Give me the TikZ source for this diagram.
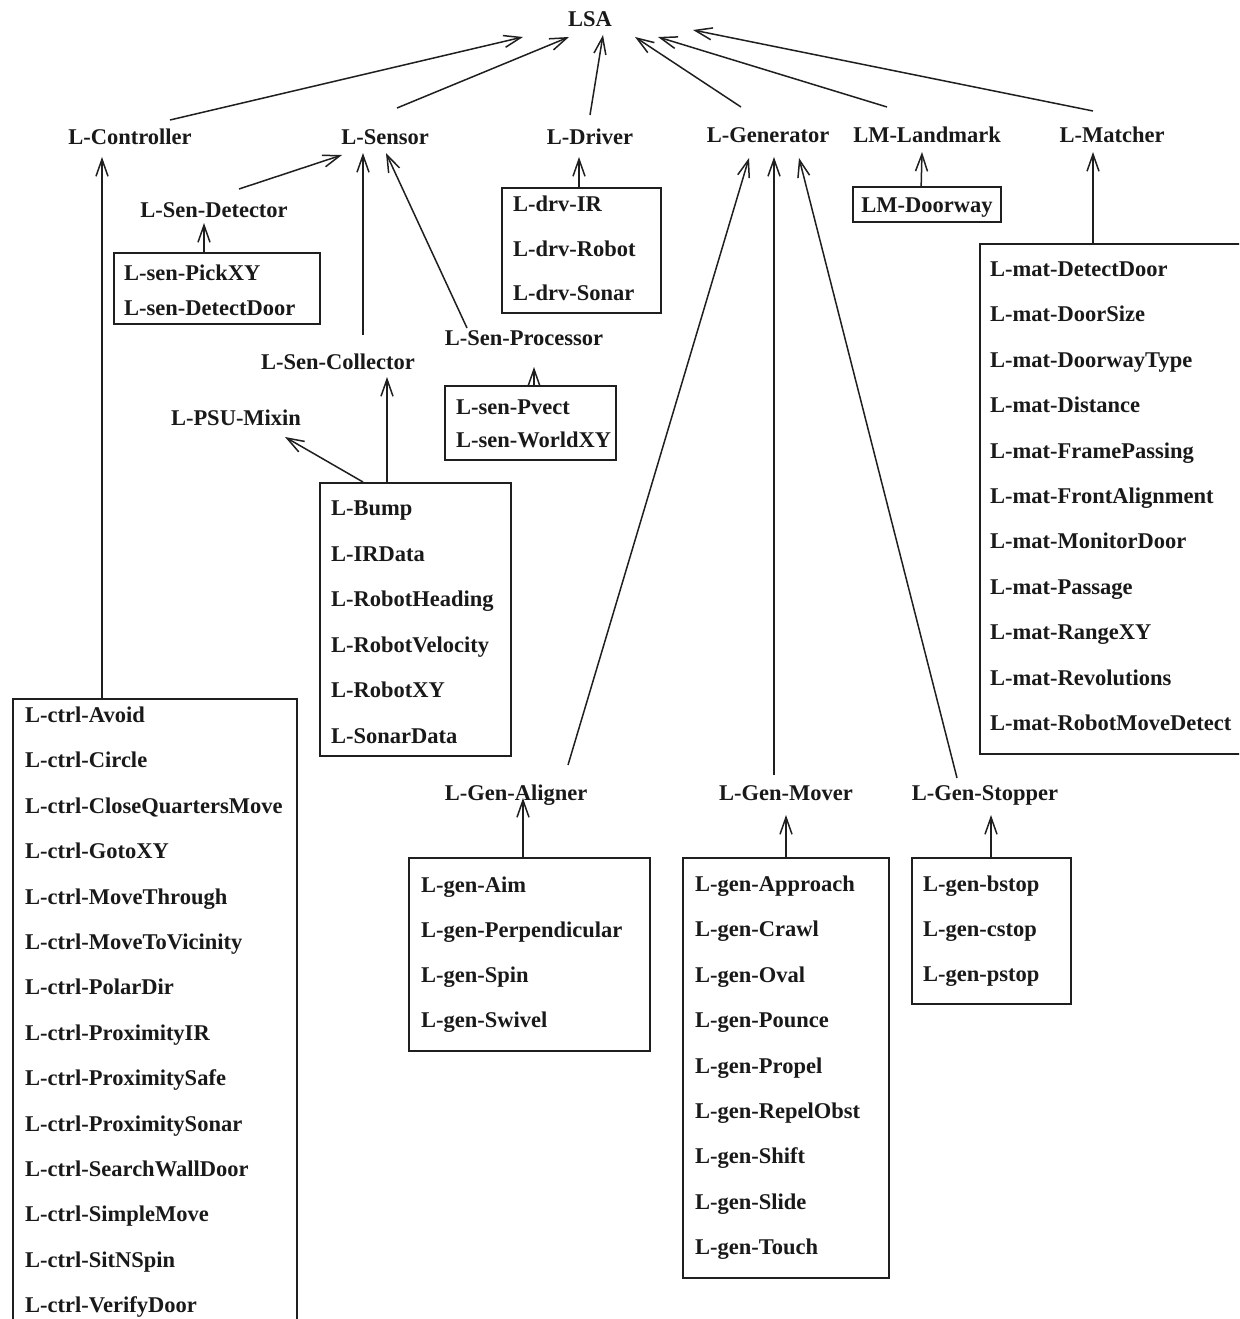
\documentclass[tikz,border=0pt]{standalone}
\usepackage{fontspec}
\setmainfont{Liberation Serif}
\usetikzlibrary{arrows.meta}
\begin{document}
\begin{tikzpicture}[x=1pt,y=-1pt,
  lbl/.style={font=\fontsize{22.5}{27}\selectfont\bfseries, text=black!90,
    inner sep=0pt, text height=15pt, text depth=0pt},
  item/.style={lbl, anchor=west},
  box/.style={draw=black!88, line width=1.7pt, inner sep=0pt, anchor=north west},
  arr/.style={draw=black!88, line width=1.5pt,
    -{Straight Barb[length=17pt,width=12pt,line width=1.5pt]}},
]
\useasboundingbox (0,0) rectangle (1239,1319);
\clip (0,0) rectangle (1239,1319);

% class names
\node[lbl] (lsa)     at (590,19)  {LSA};
\node[lbl] (lctrl)   at (130,137) {L-Controller};
\node[lbl] (lsensor) at (385,137) {L-Sensor};
\node[lbl] (ldriver) at (590,137) {L-Driver};
\node[lbl] (lgen)    at (768,135) {L-Generator};
\node[lbl] (lmland)  at (927,135) {LM-Landmark};
\node[lbl] (lmatch)  at (1112,135) {L-Matcher};
\node[lbl] (lsdet)   at (214,210) {L-Sen-Detector};
\node[lbl] (lsproc)  at (524,338) {L-Sen-Processor};
\node[lbl] (lscoll)  at (338,362) {L-Sen-Collector};
\node[lbl] (lpsu)    at (236,418) {L-PSU-Mixin};
\node[lbl] (lgalign) at (516,793) {L-Gen-Aligner};
\node[lbl] (lgmover) at (786,793) {L-Gen-Mover};
\node[lbl] (lgstop)  at (985,793) {L-Gen-Stopper};

% boxes of leaf classes
\node[box, minimum width=284pt, minimum height=660pt] (ctrlbox) at (12,698) {};
\node[box, minimum width=206pt, minimum height=71pt]  (sdetbox) at (113,252) {};
\node[box, minimum width=159pt, minimum height=125pt] (drvbox)  at (501,187) {};
\node[box, minimum width=171pt, minimum height=74pt]  (pvbox)   at (444,385) {};
\node[box, minimum width=191pt, minimum height=273pt] (bumpbox) at (319,482) {};
\node[box, minimum width=241pt, minimum height=193pt] (aimbox)  at (408,857) {};
\node[box, minimum width=206pt, minimum height=420pt] (appbox)  at (682,857) {};
\node[box, minimum width=159pt, minimum height=146pt] (stopbox) at (911,857) {};
\node[box, minimum width=300pt, minimum height=510pt] (matbox)  at (979,243) {};
\node[lbl, draw=black!88, line width=1.7pt, minimum width=148pt, minimum height=35pt]
  (doorway) at (927,204.5) {LM-Doorway};

% box contents
\foreach \t [count=\i from 0] in {L-ctrl-Avoid, L-ctrl-Circle, L-ctrl-CloseQuartersMove,
  L-ctrl-GotoXY, L-ctrl-MoveThrough, L-ctrl-MoveToVicinity, L-ctrl-PolarDir,
  L-ctrl-ProximityIR, L-ctrl-ProximitySafe, L-ctrl-ProximitySonar,
  L-ctrl-SearchWallDoor, L-ctrl-SimpleMove, L-ctrl-SitNSpin, L-ctrl-VerifyDoor}
  \node[item] (ctrl-\i) at (25,715+45.4*\i) {\t};
\foreach \t [count=\i from 0] in {L-sen-PickXY, L-sen-DetectDoor}
  \node[item] (sdet-\i) at (124,273+35*\i) {\t};
\foreach \t [count=\i from 0] in {L-drv-IR, L-drv-Robot, L-drv-Sonar}
  \node[item] (drv-\i) at (513,204+44.5*\i) {\t};
\foreach \t [count=\i from 0] in {L-sen-Pvect, L-sen-WorldXY}
  \node[item] (pv-\i) at (456,407+33*\i) {\t};
\foreach \t [count=\i from 0] in {L-Bump, L-IRData, L-RobotHeading, L-RobotVelocity,
  L-RobotXY, L-SonarData}
  \node[item] (bump-\i) at (331,508+45.6*\i) {\t};
\foreach \t [count=\i from 0] in {L-gen-Aim, L-gen-Perpendicular, L-gen-Spin, L-gen-Swivel}
  \node[item] (aim-\i) at (421,885+45*\i) {\t};
\foreach \t [count=\i from 0] in {L-gen-Approach, L-gen-Crawl, L-gen-Oval, L-gen-Pounce,
  L-gen-Propel, L-gen-RepelObst, L-gen-Shift, L-gen-Slide, L-gen-Touch}
  \node[item] (app-\i) at (695,884+45.4*\i) {\t};
\foreach \t [count=\i from 0] in {L-gen-bstop, L-gen-cstop, L-gen-pstop}
  \node[item] (stop-\i) at (923,884+45*\i) {\t};
\foreach \t [count=\i from 0] in {L-mat-DetectDoor, L-mat-DoorSize, L-mat-DoorwayType,
  L-mat-Distance, L-mat-FramePassing, L-mat-FrontAlignment, L-mat-MonitorDoor,
  L-mat-Passage, L-mat-RangeXY, L-mat-Revolutions, L-mat-RobotMoveDetect}
  \node[item] (mat-\i) at (990,269+45.4*\i) {\t};

% inheritance arrows into LSA
\draw[arr] ([shift={(40,-17)}]lctrl.center)   -- ([shift={(-67,18)}]lsa.center);
\draw[arr] ([shift={(12,-29)}]lsensor.center) -- ([shift={(-21,18)}]lsa.center);
\draw[arr] ([shift={(0,-22)}]ldriver.center)  -- ([shift={(13,16)}]lsa.center);
\draw[arr] ([shift={(-27,-28)}]lgen.center)   -- ([shift={(45,18)}]lsa.center);
\draw[arr] ([shift={(-40,-28)}]lmland.center) -- ([shift={(68,18)}]lsa.center);
\draw[arr] ([shift={(-19,-24)}]lmatch.center) -- ([shift={(103,11)}]lsa.center);

% controller branch
\draw[arr] ([shift={(90,0)}]ctrlbox.north west) -- ([shift={(-28,20)}]lctrl.center);

% sensor branch
\draw[arr] ([shift={(91,0)}]sdetbox.north west) -- ([shift={(-10,13)}]lsdet.center);
\draw[arr] ([shift={(25,-21)}]lsdet.center)  -- ([shift={(-43,18)}]lsensor.center);
\draw[arr] ([shift={(25,-27)}]lscoll.center) -- ([shift={(-22,16)}]lsensor.center);
\draw[arr] ([shift={(-57,-10)}]lsproc.center) -- ([shift={(1,16)}]lsensor.center);
\draw[arr] ([shift={(90,0)}]pvbox.north west)   -- ([shift={(10,29)}]lsproc.center);
\draw[arr] ([shift={(68,0)}]bumpbox.north west) -- ([shift={(49,15)}]lscoll.center);
\draw[arr] ([shift={(44,0)}]bumpbox.north west) -- ([shift={(49,19)}]lpsu.center);

% driver branch
\draw[arr] ([shift={(78,0)}]drvbox.north west) -- ([shift={(-11,20)}]ldriver.center);

% landmark and matcher branches
\draw[arr] ([shift={(69,0)}]doorway.north west) -- ([shift={(-5,17)}]lmland.center);
\draw[arr] ([shift={(114,0)}]matbox.north west) -- ([shift={(-19,17)}]lmatch.center);

% generator branch
\draw[arr] ([shift={(52,-28)}]lgalign.center) -- ([shift={(-19,23)}]lgen.center);
\draw[arr] ([shift={(-12,-18)}]lgmover.center) -- ([shift={(6,22)}]lgen.center);
\draw[arr] ([shift={(-28,-15)}]lgstop.center) -- ([shift={(31,23)}]lgen.center);
\draw[arr] ([shift={(115,0)}]aimbox.north west)  -- ([shift={(7,5)}]lgalign.center);
\draw[arr] ([shift={(104,0)}]appbox.north west)  -- ([shift={(0,22)}]lgmover.center);
\draw[arr] ([shift={(80,0)}]stopbox.north west)  -- ([shift={(6,22)}]lgstop.center);
\end{tikzpicture}
\end{document}
